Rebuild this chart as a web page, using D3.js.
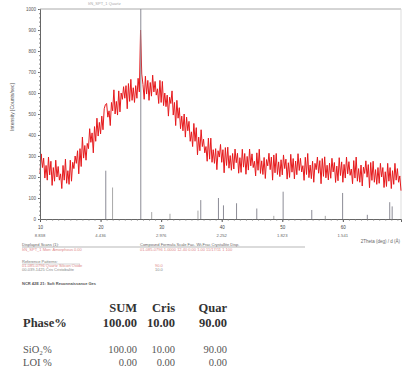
<!DOCTYPE html>
<html>
<head>
<meta charset="utf-8">
<script src="https://cdn.jsdelivr.net/npm/d3@7"></script>
<style>
  body { margin: 0; background: #fff; }
  svg { display: block; }
</style>
</head>
<body>
<div id="xrd"></div>
<script>
// scan: 2theta from 10 deg, step 0.2 deg, counts
const scanStart = 10;
const scanStep = 0.2;
const counts = [
  215, 310, 245, 290, 195,  255, 185, 295, 210, 275,  160, 245, 180, 280, 200,  250, 185, 215, 145, 255,
  185, 285, 170, 230, 165,  280, 180, 270, 240, 300,  265, 325, 215, 335, 250,  390, 290, 350, 280, 360,
  335, 430, 365, 410, 315,  440, 370, 480, 395, 460,  405, 490, 425, 525, 545,  550, 485, 515, 445, 555,
  515, 615, 500, 560, 495,  610, 510, 600, 570, 630,  575, 635, 525, 645, 560,  665, 565, 625, 555, 635,
  575, 670, 605, 900, 690,  640, 570, 680, 595, 660,  565, 650, 585, 685, 605,  655, 590, 620, 550, 660,
  555, 655, 540, 600, 535,  590, 490, 580, 550, 610,  495, 555, 445, 565, 480,  530, 430, 490, 420, 500,
  390, 485, 420, 465, 370,  415, 345, 455, 370, 435,  305, 390, 325, 425, 345,  380, 315, 345, 275, 385,
  285, 385, 270, 330, 265,  335, 235, 325, 295, 355,  270, 330, 220, 340, 255,  342, 242, 302, 232, 312,
  238, 333, 268, 313, 218,  292, 222, 332, 247, 312,  213, 298, 233, 333, 253,  310, 245, 275, 205, 315,
  232, 332, 217, 277, 212,  293, 193, 283, 253, 313,  235, 295, 185, 305, 220,  312, 212, 272, 202, 282,
  210, 305, 240, 285, 190,  268, 198, 308, 223, 288,  191, 276, 211, 311, 231,  289, 224, 254, 184, 294,
  212, 312, 197, 257, 192,  275, 175, 265, 235, 295,  218, 278, 168, 288, 203,  296, 196, 256, 186, 266,
  194, 289, 224, 269, 174,  252, 182, 292, 207, 272,  175, 260, 195, 295, 215,  273, 208, 238, 168, 278,
  195, 295, 180, 240, 175,  257, 157, 247, 217, 277,  199, 259, 149, 269, 184,  275, 175, 235, 165, 245,
  170, 265, 200, 245, 150,  225, 155, 265, 180, 245,  145, 230, 165, 265, 185,  240, 175, 205, 135, 245
];

// reference patterns (2theta, relative intensity %)
const quartzPos = [20.86, 26.64, 36.54, 39.46, 40.29, 42.45, 45.79, 50.14, 54.87, 59.96, 64.04, 67.74, 68.14];
const quartzInt = [23, 100, 9, 10, 6.5, 7.5, 5, 13, 4.3, 12.4, 2, 8, 6];
const crisPos = [21.98, 28.44, 31.46, 36.08, 48.6, 57.1];
const crisInt = [15, 3.3, 2.5, 4, 1.5, 1.5];

const xTicks = [10, 20, 30, 40, 50, 60];
const dLabels = ["8.838", "4.436", "2.976", "2.252", "1.823", "1.541"];
const yTicks = [0, 100, 200, 300, 400, 500, 600, 700, 800, 900, 1000];

// results table
const phaseCols = ["SUM", "Cris", "Quar"];
const phasePct = ["100.00", "10.00", "90.00"];
const sio2Pct = ["100.00", "10.00", "90.00"];
const loiPct = ["0.00", "0.00", "0.00"];

const W = 403, H = 374;
const svg = d3.select("#xrd").append("svg")
    .attr("width", W)
    .attr("height", H);

svg.append("rect").attr("width", W).attr("height", H).attr("fill", "#fff");

const x = d3.scaleLinear().domain([10, 69.6]).range([40, 401]);
const y = d3.scaleLinear().domain([0, 1000]).range([219, 9]);

const scan = counts.map((c, i) => ({ t: scanStart + i * scanStep, c: c }))
    .filter(d => d.t <= 69.65);

// faint title above the frame
svg.append("text")
    .attr("x", 88).attr("y", 5)
    .attr("font-family", "Liberation Sans, Arial, sans-serif")
    .attr("font-size", 4).attr("fill", "#aaa")
    .text("ItN_SPT_1   Quartz");

// frame top / right
svg.append("line").attr("x1", 40).attr("x2", 401).attr("y1", 9).attr("y2", 9)
    .attr("stroke", "#aaa").attr("stroke-width", 1);
svg.append("line").attr("x1", 401).attr("x2", 401).attr("y1", 9).attr("y2", 219)
    .attr("stroke", "#ddd").attr("stroke-width", 1);

// the scan
const line = d3.line().x(d => x(d.t)).y(d => y(d.c));
svg.append("path")
    .datum(scan)
    .attr("fill", "none")
    .attr("stroke", "#e6191c")
    .attr("stroke-width", 1)
    .attr("stroke-linejoin", "round")
    .attr("d", line);

// reference sticks
svg.selectAll(".quartz")
    .data(quartzPos)
    .enter().append("line")
    .attr("x1", d => x(d)).attr("x2", d => x(d))
    .attr("y1", y(0))
    .attr("y2", (d, i) => y(quartzInt[i] * 10))
    .attr("stroke", "#8c8c96")
    .attr("stroke-width", 1);
svg.selectAll(".cris")
    .data(crisPos)
    .enter().append("line")
    .attr("x1", d => x(d)).attr("x2", d => x(d))
    .attr("y1", y(0))
    .attr("y2", (d, i) => y(crisInt[i] * 10))
    .attr("stroke", "#a8a8a8")
    .attr("stroke-width", 1);

// Y axis
const yAxis = svg.append("g")
    .attr("transform", "translate(40,0)")
    .call(d3.axisLeft(y).tickValues(yTicks).tickSize(2).tickFormat(d3.format("d")));
yAxis.select(".domain").attr("stroke", "#666");
yAxis.selectAll("text").attr("font-size", 4.5).attr("fill", "#555").attr("dx", 1)
    .attr("font-family", "Liberation Sans, Arial, sans-serif");
yAxis.selectAll(".tick line").attr("stroke", "#666");
svg.append("g")
    .attr("transform", "translate(40,0)")
    .call(d3.axisLeft(y).ticks(50).tickSize(1).tickFormat(""))
    .call(g => g.select(".domain").remove())
    .selectAll("line").attr("stroke", "#888");

svg.append("text")
    .attr("transform", "translate(14,107) rotate(-90)")
    .attr("text-anchor", "middle")
    .attr("font-family", "Liberation Sans, Arial, sans-serif")
    .attr("font-size", 5).attr("fill", "#555")
    .text("Intensity  [Counts/sec]");

// X axis
const xAxis = svg.append("g")
    .attr("transform", "translate(0,219)")
    .call(d3.axisBottom(x).tickValues(xTicks).tickSize(3).tickPadding(4).tickFormat(d3.format("d")));
xAxis.select(".domain").attr("stroke", "#666");
xAxis.selectAll(".tick line").attr("stroke", "#555");
xAxis.selectAll("text").attr("font-size", 4.5).attr("fill", "#444")
    .attr("font-family", "Liberation Sans, Arial, sans-serif");
svg.append("g")
    .attr("transform", "translate(0,219)")
    .call(d3.axisBottom(x).ticks(60).tickSize(1.5).tickFormat(""))
    .call(g => g.select(".domain").remove())
    .selectAll("line").attr("stroke", "#777");

svg.selectAll(".dlab")
    .data(xTicks)
    .enter().append("text")
    .attr("x", d => x(d)).attr("y", 237)
    .attr("text-anchor", "middle")
    .attr("font-family", "Liberation Sans, Arial, sans-serif")
    .attr("font-size", 4.2).attr("fill", "#666")
    .text((d, i) => dLabels[i]);

svg.append("text")
    .attr("x", 400).attr("y", 243)
    .attr("text-anchor", "end")
    .attr("font-family", "Liberation Sans, Arial, sans-serif")
    .attr("font-size", 4.5).attr("fill", "#666")
    .text("2Theta (deg)  /  d (\u00c5)");

// legend block
const small = (tx, ty, str, col, wt) => svg.append("text")
    .attr("x", tx).attr("y", ty)
    .attr("font-family", "Liberation Sans, Arial, sans-serif")
    .attr("font-size", 4).attr("fill", col).attr("font-weight", wt || "normal")
    .text(str);

small(22, 246, "Displayed  Scans (1):", "#666");
small(140, 246, "Compound   Formula   Scale Fac.   Wt.Frac   Crystallite   Disp.", "#666");
svg.append("line").attr("x1", 22).attr("x2", 305).attr("y1", 247).attr("y2", 247)
    .attr("stroke", "#888").attr("stroke-width", 0.6);
small(22, 251, "ItN_SPT_1   Mon: Amorphous   0.00", "#d88");
small(140, 251, "01-085-0796  1.0000   12.40 0.00   1.00   11/17/11   1   100", "#d88");
small(22, 263, "Reference  Patterns:", "#777");
svg.append("line").attr("x1", 22).attr("x2", 80).attr("y1", 264).attr("y2", 264)
    .attr("stroke", "#aaa").attr("stroke-width", 0.5);
small(22, 267, "01-085-0796   Quartz   Silicon Oxide", "#d88");
small(155, 267, "90.0", "#d88");
small(22, 271, "00-039-1425   Cris   Cristobalite", "#888");
small(155, 271, "10.0", "#888");
small(22, 285, "NCR  42E  21:  Soft  Reconnaissance  Ges", "#555", "bold");

// results table
const serif = "Liberation Serif, Times New Roman, serif";
const colX = [137, 175, 227];
const row = (ty, label, vals, wt, col, fs) => {
    if (label) {
        svg.append("text")
            .attr("x", 23).attr("y", ty)
            .attr("font-family", serif).attr("font-size", fs)
            .attr("font-weight", wt).attr("fill", col)
            .text(label);
    }
    svg.selectAll(null)
        .data(vals)
        .enter().append("text")
        .attr("x", (d, i) => colX[i]).attr("y", ty)
        .attr("text-anchor", "end")
        .attr("font-family", serif).attr("font-size", fs)
        .attr("font-weight", wt).attr("fill", col)
        .text(d => d);
};
row(312, "", phaseCols, "bold", "#333", 12.5);
row(327, "Phase%", phasePct, "bold", "#333", 12.5);
row(353, "SiO\u2082%", sio2Pct, "normal", "#555", 10.5);
row(366, "LOI %", loiPct, "normal", "#555", 10.5);
</script>
</body>
</html>
